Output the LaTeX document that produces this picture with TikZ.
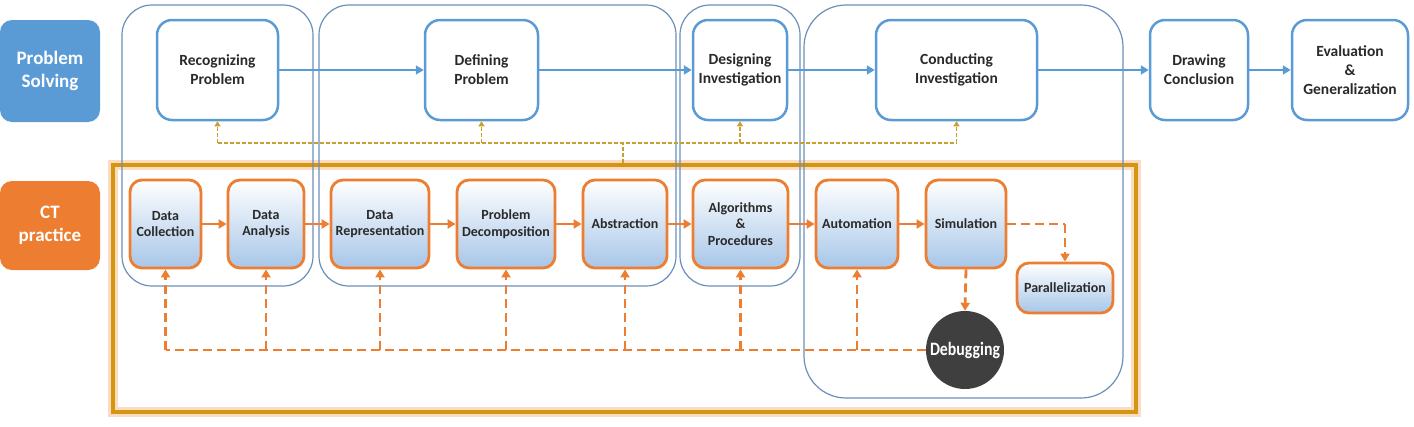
\documentclass[tikz,border=0pt]{standalone}
\usepackage{fontspec}
\setmainfont{Carlito}
\usetikzlibrary{arrows.meta}
\definecolor{psblue}{HTML}{5B9BD5}
\definecolor{grpblue}{HTML}{6A8FBA}
\definecolor{ctorange}{HTML}{ED7D31}
\definecolor{framegold}{HTML}{D4960F}
\definecolor{glow}{HTML}{FBDCC2}
\definecolor{goldd}{HTML}{C9A030}
\definecolor{boxlow}{HTML}{A7C6E8}
\definecolor{txt}{HTML}{2A2A2A}
\definecolor{debgrey}{HTML}{3F3F3F}
\tikzset{
  label box/.style={fill=#1, rounded corners=12pt, text=white, align=center,
    font=\fontsize{19}{23}\selectfont\bfseries, inner sep=0pt},
  psbox/.style={draw=psblue, line width=2.5pt, fill=white, rounded corners=15pt,
    align=center, text=txt, font=\fontsize{15.5}{19}\selectfont\bfseries,
    minimum height=100pt, inner sep=0pt},
  ctbox/.style={draw=ctorange, line width=2.8pt, top color=white, bottom color=boxlow,
    rounded corners=12pt, align=center, text=txt,
    font=\fontsize{14}{16.5}\selectfont\bfseries, minimum height=88pt, inner sep=0pt},
  grp/.style={draw=grpblue, line width=1.2pt, rounded corners=30pt, inner sep=0pt},
  barrow/.style={draw=psblue, line width=2.7pt, -{Triangle[length=8pt,width=9pt]}},
  oarrow/.style={draw=ctorange, line width=2.8pt, -{Triangle[length=8pt,width=9pt]}},
  odash/.style={draw=ctorange, line width=2.8pt, dash pattern=on 9pt off 5pt},
  gdash/.style={draw=goldd, line width=1.4pt, dash pattern=on 4pt off 2pt},
}
\begin{document}
\begin{tikzpicture}[x=1pt,y=-1pt]
\useasboundingbox (0,0) rectangle (1414,426);
% left labels
\node[label box=psblue, minimum width=100pt, minimum height=102pt] (ps) at (50,71) {Problem\\Solving};
\node[label box=ctorange, minimum width=100pt, minimum height=89pt] (ct) at (50,225.5) {CT\\practice};
% orange frame
\node[draw=framegold, line width=4pt, preaction={draw=glow, line width=10pt},
  minimum width=1023pt, minimum height=247pt, inner sep=0pt] (frame) at (624.5,288.5) {};
% groups
\node[grp, minimum width=191pt, minimum height=281pt] (g1) at (217.5,145.5) {};
\node[grp, minimum width=357pt, minimum height=281pt] (g2) at (497.5,145.5) {};
\node[grp, minimum width=120pt, minimum height=281pt] (g3) at (740,145.5) {};
\node[grp, minimum width=319pt, minimum height=393pt, rounded corners=42pt] (g4) at (963.5,201.5) {};
% top row
\node[psbox, minimum width=121pt] (rec) at (217.5,70) {Recognizing\\Problem};
\node[psbox, minimum width=113pt] (def) at (481.5,70) {Defining\\Problem};
\node[psbox, minimum width=94pt] (des) at (740,70) {Designing\\Investigation};
\node[psbox, minimum width=161pt] (con) at (956.5,70) {Conducting\\Investigation};
\node[psbox, minimum width=98pt] (dra) at (1199,70) {Drawing\\Conclusion};
\node[psbox, minimum width=116pt] (eva) at (1350,70) {Evaluation\\\&\\Generalization};
\draw[barrow] (rec) -- (def);
\draw[barrow] (def) -- (des);
\draw[barrow] (des) -- (con);
\draw[barrow] (con) -- (dra);
\draw[barrow] (dra) -- (eva);
% bottom row
\node[ctbox, minimum width=71pt] (dc) at (165.5,224) {Data\\Collection};
\node[ctbox, minimum width=76pt] (da) at (266,224) {Data\\Analysis};
\node[ctbox, minimum width=98pt] (dr) at (380,224) {Data\\Representation};
\node[ctbox, minimum width=98pt] (pd) at (506,224) {Problem\\Decomposition};
\node[ctbox, minimum width=84pt] (ab) at (625,224) {Abstraction};
\node[ctbox, minimum width=95pt] (al) at (740.5,224) {Algorithms\\\&\\Procedures};
\node[ctbox, minimum width=82pt] (au) at (857,224) {Automation};
\node[ctbox, minimum width=80pt] (si) at (966,224) {Simulation};
\node[ctbox, minimum width=96pt, minimum height=50pt] (pa) at (1065,288) {Parallelization};
\node[circle, fill=debgrey, minimum size=78pt, inner sep=0pt, text=white,
  font=\fontsize{18}{20}\selectfont\bfseries] (deb) at (965,350) {\scalebox{0.88}[1.05]{Debugging}};
\draw[oarrow] (dc) -- (da);
\draw[oarrow] (da) -- (dr);
\draw[oarrow] (dr) -- (pd);
\draw[oarrow] (pd) -- (ab);
\draw[oarrow] (ab) -- (al);
\draw[oarrow] (al) -- (au);
\draw[oarrow] (au) -- (si);
% dashed orange
\draw[odash] (deb.west) -- (dc.south |- deb.west);
\foreach \n in {dc,da,dr,pd,ab,al,au}
  \draw[odash, -{Triangle[length=8pt,width=9pt]}] (\n.south |- deb.west) -- (\n.south);
\coordinate (pc) at (pa.north |- si.east);
\draw[odash] (si.east) -- (pc);
\draw[odash, -{Triangle[length=8pt,width=9pt]}] (pc) -- (pa.north);
\draw[odash, -{Triangle[length=8pt,width=9pt]}] (si.south) -- (deb.north);
% gold dashed
\coordinate (gj) at (623,143);
\draw[gdash] (gj |- frame.north) -- (gj);
\draw[gdash] (rec.south |- gj) -- (con.south |- gj);
\foreach \n in {rec,def,des,con}
  \draw[gdash, -{Triangle[length=5pt,width=6pt]}] (\n.south |- gj) -- (\n.south);
\end{tikzpicture}
\end{document}
